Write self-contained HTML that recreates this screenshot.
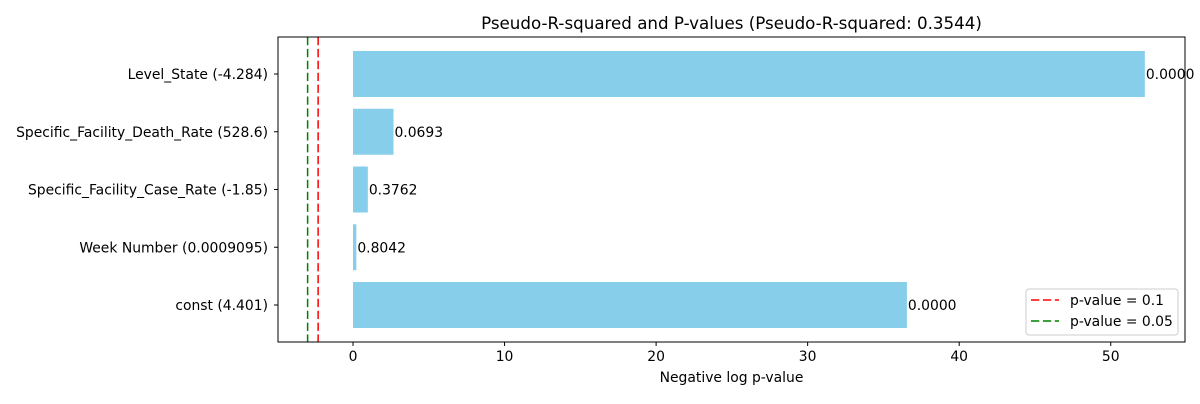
<!DOCTYPE html>
<html><head><meta charset="utf-8">
<style>
body{margin:0;background:#fff;font-family:"DejaVu Sans","Liberation Sans",sans-serif;}
svg text{font-family:"DejaVu Sans","Liberation Sans",sans-serif;fill:#000;}
</style></head>
<body>
<svg id="chart" width="1200" height="400" xmlns="http://www.w3.org/2000/svg"></svg>
<script>
const categories = ["Level_State (-4.284)","Specific_Facility_Death_Rate (528.6)","Specific_Facility_Case_Rate (-1.85)","Week Number (0.0009095)","const (4.401)"];
const negLogP = [52.25, 2.67, 0.978, 0.218, 36.55];
const pLabels = ["0.0000","0.0693","0.3762","0.8042","0.0000"];
const xTicks = [0,10,20,30,40,50];
const thresholds = [0.1, 0.05];
const thresholdColors = ["#ff0000","#008000"];
const thresholdNames = ["p-value = 0.1","p-value = 0.05"];

const svg = document.getElementById('chart');
const NS = "http://www.w3.org/2000/svg";
const L=278,R=1185,T=37,B=342;
const xmin=-4.95,xmax=54.9;
const FS=13.9;
const x=v=>L+(v-xmin)/(xmax-xmin)*(R-L);
const yc=i=>74+i*57.75;
const bh=46;
function el(tag,attrs,name,text){const e=document.createElementNS(NS,tag);for(const k in attrs)e.setAttribute(k,attrs[k]);


if(text!==undefined)e.textContent=text;svg.appendChild(e);return e;}

el('text',{x:(L+R)/2,y:29,'text-anchor':'middle','font-size':16.7},'chart-title','Pseudo-R-squared and P-values (Pseudo-R-squared: 0.3544)');
negLogP.forEach((v,i)=>{
  el('rect',{x:x(0),y:yc(i)-bh/2,width:x(v)-x(0),height:bh,fill:'#87ceeb'},'bar-'+i);
  el('text',{x:x(v)+1,y:yc(i)+5,'font-size':FS},'bar-value-label',pLabels[i]);
  el('line',{x1:L-4,x2:L,y1:yc(i),y2:yc(i),stroke:'#000'},'y-tick');
  el('text',{x:L-10,y:yc(i)+5,'text-anchor':'end','font-size':FS},'y-tick-label',categories[i]);
});
thresholds.forEach((p,i)=>{
  const xv=x(Math.log(p));
  el('line',{x1:xv,x2:xv,y1:T,y2:B,stroke:thresholdColors[i],'stroke-width':1.5,'stroke-dasharray':'8.3,3.6'},'threshold-line');
});
el('rect',{x:L,y:T,width:R-L,height:B-T,fill:'none',stroke:'#000','stroke-width':1},'plot-frame');
xTicks.forEach(t=>{
  el('line',{x1:x(t),x2:x(t),y1:B,y2:B+4,stroke:'#000'},'x-tick');
  el('text',{x:x(t),y:B+19,'text-anchor':'middle','font-size':FS},'x-tick-label',String(t));
});
el('text',{x:(L+R)/2,y:382,'text-anchor':'middle','font-size':FS},'x-axis-title','Negative log p-value');
el('rect',{x:1026,y:289,width:152,height:46,rx:3,fill:'#fff',stroke:'#ccc'},'legend-box');
thresholdNames.forEach((nm,i)=>{
  const yy=300+i*21;
  el('line',{x1:1031,x2:1059,y1:yy,y2:yy,stroke:thresholdColors[i],'stroke-width':1.5,'stroke-dasharray':'8.3,3.6'},'legend-swatch');
  el('text',{x:1070,y:yy+5,'font-size':FS},'legend-entry',nm);
});
</script>
</body></html>
